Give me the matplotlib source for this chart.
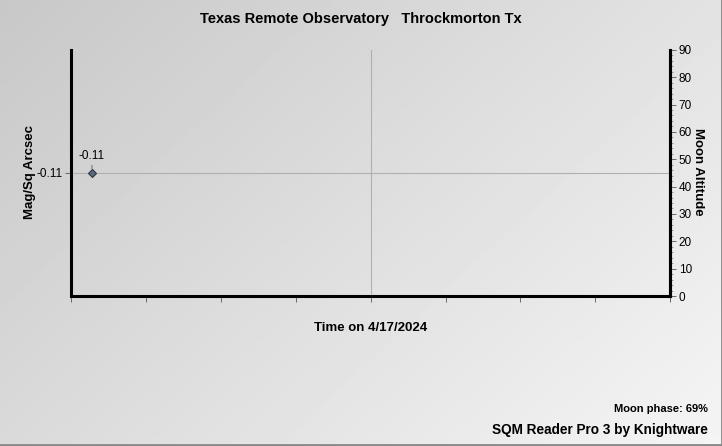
import numpy as np
import matplotlib
matplotlib.use("Agg")
import matplotlib.pyplot as plt
from matplotlib.ticker import MultipleLocator, NullFormatter

plt.rcParams['font.family'] = ['Liberation Sans Narrow', 'Liberation Sans', 'DejaVu Sans']

title = "Texas Remote Observatory   Throckmorton Tx"
date_label = "Time on 4/17/2024"
moon_phase = "Moon phase: 69%"

# one reading (hours into the night window) and its brightness
times = [0.28]
mags = [-0.11]
mag_ticks = [-0.11]

fig = plt.figure(figsize=(7.22, 4.46), dpi=100)

# diagonal gray gradient background
bg = fig.add_axes([0, 0, 1, 1], zorder=-10)
gx, gy = np.meshgrid(np.linspace(0, 1, 300), np.linspace(0, 1, 200))
grad = (gx * 0.6 + gy * 0.4)
bg.imshow(grad, cmap='gray', vmin=-4.45, vmax=1.23, aspect='auto', extent=[0, 1, 0, 1], origin='upper')
bg.plot([0, 1, 1], [0.002, 0.002, 1], color='#888888', lw=2, transform=bg.transAxes)
bg.set_xlim(0, 1)
bg.set_ylim(0, 1)
bg.axis('off')

ax = fig.add_axes([0.0983, 0.3363, 0.83, 0.552])
ax.patch.set_alpha(0)
ax.set_xlim(0, 8)
ax.set_ylim(-0.22, 0.0)

ax.spines['top'].set_visible(False)
for s in ['left', 'bottom', 'right']:
    ax.spines[s].set_linewidth(2.2)
    ax.spines[s].set_color('black')

ax.set_xticks(np.arange(0, 9, 1))
ax.xaxis.set_major_formatter(NullFormatter())
ax.tick_params(axis='x', length=4, width=0.6, color='#555555', direction='out')
ax.set_yticks(mag_ticks)
ax.set_yticklabels([f"{v:.2f}" for v in mag_ticks])
ax.tick_params(axis='y', length=4, width=0.6, color='#555555', labelsize=8.5, pad=2)

ax.axvline(4, color='#b0b0b0', lw=0.8, zorder=0)
ax.axhline(mag_ticks[0], color='#b0b0b0', lw=0.8, zorder=0)

ax.plot(times, mags, linestyle='none', marker='D', markersize=4.5,
        markerfacecolor='#5a6a7a', markeredgecolor='#2a3440', markeredgewidth=0.8, zorder=5)
for t, m in zip(times, mags):
    ax.annotate(f"{m:.2f}", xy=(t, m), xytext=(0, 7.5), textcoords='offset points',
                ha='center', va='bottom', fontsize=8.5,
                arrowprops=dict(arrowstyle='-', color='#555555', lw=0.6, shrinkA=0, shrinkB=3))

ax.set_xlabel(date_label, fontsize=9.5, fontweight='bold', labelpad=11)

ax2 = ax.twinx()
ax2.set_ylim(0, 90)
ax2.yaxis.set_major_locator(MultipleLocator(10))
ax2.yaxis.set_minor_locator(MultipleLocator(2))
ax2.tick_params(axis='y', which='major', length=4, width=0.6, color='#555555', labelsize=8.5, pad=2)
ax2.tick_params(axis='y', which='minor', length=2, width=0.5, color='#777777')
for s in ['top', 'left', 'bottom']:
    ax2.spines[s].set_visible(False)
ax2.spines['right'].set_linewidth(2.2)

fig.text(30 / 722, 1 - 172 / 446, "Mag/Sq Arcsec", rotation=90, ha='center', va='center',
         fontsize=9.5, fontweight='bold')
fig.text(698 / 722, 1 - 172 / 446, "Moon Altitude", rotation=270, ha='center', va='center',
         fontsize=9.5, fontweight='bold')

fig.text(0.5, 0.958, title, ha='center', va='center', fontsize=10.5, fontweight='bold')
fig.text(0.981, 0.083, moon_phase, ha='right', va='center', fontsize=8, fontweight='bold')
fig.text(0.981, 0.036, "SQM Reader Pro 3 by Knightware", ha='right', va='center', fontsize=9.8, fontweight='bold')

fig.savefig("out.png", dpi=100)
